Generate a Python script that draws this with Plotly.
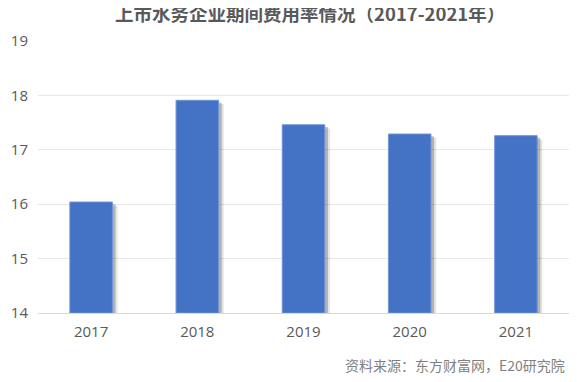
import plotly.graph_objects as go

years = ["2017", "2018", "2019", "2020", "2021"]
rates = [16.04, 17.91, 17.46, 17.29, 17.26]
y_ticks = [14, 15, 16, 17, 18, 19]

title_text = "上市水务企业期间费用率情况（2017-2021年）"
source_text = "资料来源：东方财富网，E20研究院"

FONT = "Open Sans, Noto Sans CJK SC, sans-serif"
W, H = 569, 374  # page body has an 8px margin

fig = go.Figure()
# soft drop shadow (two layers)
for off, alpha, drop in [(0.05, 0.10, 0.07), (0.03, 0.22, 0.04)]:
    fig.add_trace(go.Bar(
        x=years, y=[r - 14 - drop for r in rates], base=14,
        width=0.4, offset=-0.2 + off,
        marker=dict(color=f"rgba(0,0,0,{alpha})", line=dict(width=0)),
        hoverinfo="skip", showlegend=False,
    ))
fig.add_trace(go.Bar(
    x=years, y=[r - 14 for r in rates], base=14,
    width=0.4, offset=-0.2,
    marker=dict(color="#4472C4", line=dict(color="#6f93d6", width=1)),
    showlegend=False,
))

fig.update_layout(
    width=W, height=H,
    margin=dict(l=30, r=8, t=33, b=69, autoexpand=False),
    paper_bgcolor="white", plot_bgcolor="white",
    barmode="overlay",
    font=dict(family=FONT, color="#595959", size=15),
    title=dict(text="<b>" + title_text + "</b>", x=0.531, xanchor="center",
               yref="container", y=1, yanchor="top", pad=dict(t=0, b=0),
               font=dict(size=18.5, color="#595959", family="Noto Sans CJK SC, sans-serif")),
    xaxis=dict(showgrid=False, showline=True, linecolor="#d9d9d9", linewidth=1,
               automargin=False,
               ticks="", ticklabelstandoff=5, tickfont=dict(size=15, color="#595959")),
    yaxis=dict(range=[14, 19], tickvals=y_ticks, showgrid=True, gridcolor="#e8e8e8",
               automargin=False,
               zeroline=False, showline=False, ticks="", ticklabelstandoff=9,
               tickfont=dict(size=15, color="#595959")),
    annotations=[dict(text=source_text, xref="paper", yref="paper", x=0.996, y=-0.191,
                      xanchor="right", yanchor="middle", showarrow=False,
                      font=dict(size=14, color="#7f7f7f", family="Noto Sans CJK SC, sans-serif"))],
)

fig.write_html("out.html")
